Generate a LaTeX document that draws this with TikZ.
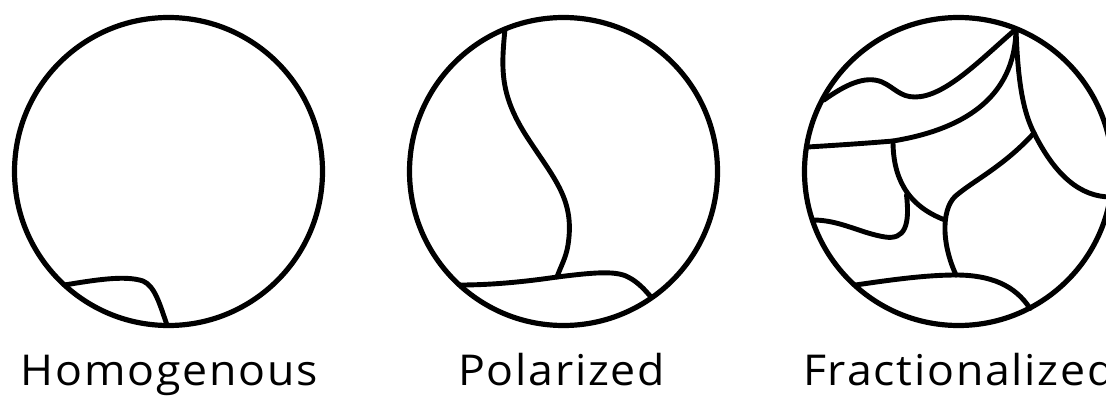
\documentclass[tikz,border=0pt]{standalone}
\usepackage{fontspec}
\setmainfont{Open Sans}
\newfontfamily\lblfont[LetterSpace=4]{Open Sans}
\newcommand{\lbltext}[1]{\scalebox{1.05}[1]{#1}}
\begin{document}
\begin{tikzpicture}[x=1pt,y=-1pt,
  rim/.style={line width=5.2pt},
  wall/.style={line width=4.9pt,line cap=round,line join=round},
  lbl/.style={inner sep=0pt,font=\lblfont\fontsize{42.5}{50}\selectfont}]
\clip (0,0) rectangle (1106,399);
\useasboundingbox (0,0) rectangle (1106,399);
% ---------- Homogenous ----------
\coordinate (c1) at (168.5,171.5);
\draw[rim] (c1) circle[radius=154];
\coordinate (h1) at (64.5,285);
\coordinate (h2) at (167,325);
\draw[wall] (h1) .. controls (95,280) and (125,275) .. (143,281)
                 .. controls (155,286) and (160,305) .. (h2);
\node[lbl,anchor=base] (t1) at (169,385) {\lbltext{Homogenous}};
% ---------- Polarized ----------
\coordinate (c2) at (563.5,171.5);
\draw[rim] (c2) circle[radius=154];
\coordinate (p1) at (505,29);
\coordinate (pj) at (557,277);
\coordinate (p2) at (460,285);
\coordinate (p3) at (651,297);
\draw[wall] (p1) .. controls (501,70) and (500,95) .. (527,137)
                 .. controls (555,180) and (575,200) .. (568,245)
                 .. controls (566,258) and (560,268) .. (pj);
\draw[wall] (p2) .. controls (495,285) and (530,281) .. (pj)
                 .. controls (590,273) and (615,270) .. (628,277)
                 .. controls (638,282) and (645,290) .. (p3);
\node[lbl,anchor=base] (t2) at (561.5,385) {\lbltext{Polarized}};
% ---------- Fractionalized ----------
\coordinate (c3) at (958.5,171.5);
\draw[rim] (c3) circle[radius=154];
\coordinate (V) at (1016,29);
\coordinate (a0) at (824,100);
\coordinate (b0) at (807.5,147);
\coordinate (JB) at (893,141);
\coordinate (J3) at (1034,133);
\coordinate (c0) at (1111,197);
\coordinate (J1) at (945,220);
\coordinate (J4) at (906.5,195);
\coordinate (f0) at (813,220);
\coordinate (J2) at (956,275);
\coordinate (g0) at (855.5,285);
\coordinate (g1) at (1030,308.5);
\draw[wall] (a0) .. controls (845,85) and (865,75) .. (882,82)
                 .. controls (895,88) and (900,97) .. (915,97)
                 .. controls (945,97) and (980,60) .. (V);
\draw[wall] (b0) .. controls (840,145) and (870,143) .. (JB)
                 .. controls (960,130) and (1015,100) .. (V);
\draw[wall] (V) .. controls (1018,90) and (1025,115) .. (J3)
                .. controls (1055,175) and (1080,197) .. (c0);
\draw[wall] (JB) .. controls (893,175) and (905,205) .. (J1);
\draw[wall] (J4) .. controls (910,225) and (905,240) .. (885,237)
                 .. controls (860,233) and (840,220) .. (f0);
\draw[wall] (J3) .. controls (1005,165) and (975,180) .. (958,194)
                 .. controls (942,205) and (940,240) .. (J2);
\draw[wall] (g0) .. controls (890,280) and (925,275) .. (J2)
                 .. controls (990,275) and (1015,285) .. (g1);
\node[lbl,anchor=base west] (t3) at (803,385) {\lbltext{Fractionalized}};
\end{tikzpicture}
\end{document}
